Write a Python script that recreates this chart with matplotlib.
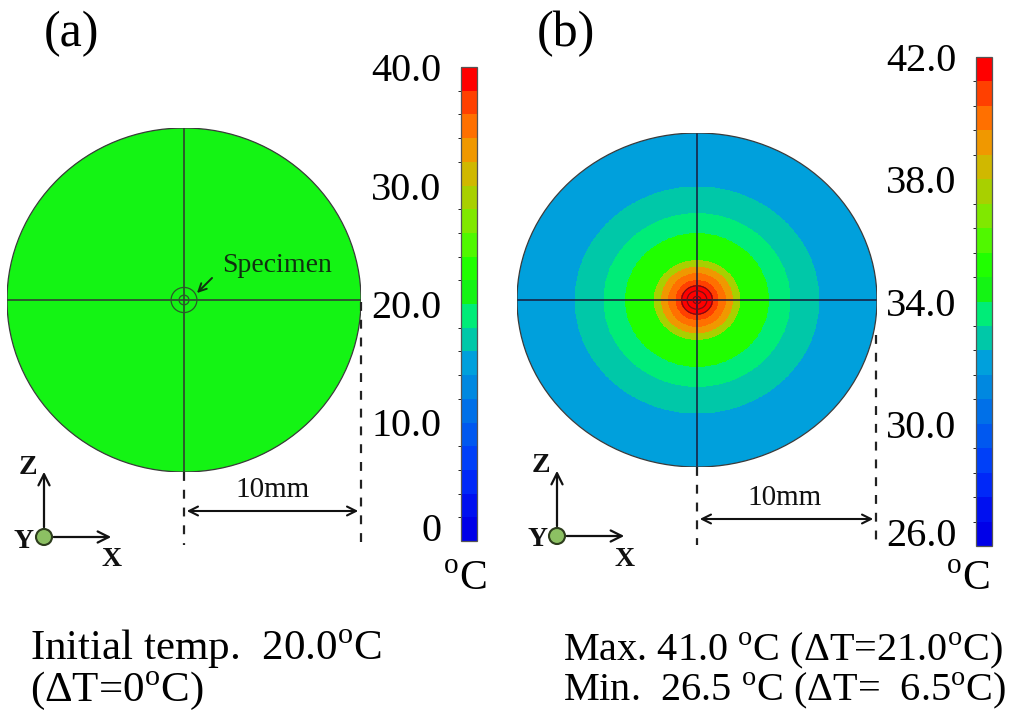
import numpy as np
import matplotlib

matplotlib.use("Agg")
import matplotlib.pyplot as plt
from matplotlib.cm import ScalarMappable
from matplotlib.colors import BoundaryNorm, ListedColormap
from matplotlib.patches import Circle

plt.rcParams["font.family"] = ["Liberation Serif", "DejaVu Serif"]
plt.rcParams["mathtext.fontset"] = "custom"
plt.rcParams["mathtext.rm"] = "Liberation Serif"

W, H = 1024, 721

# 20-step contour palette, coldest first
band_colors = [
    "#0000e8", "#0010f0", "#0028f8", "#0040f8", "#0058f0",
    "#0070e8", "#0088e0", "#00a0dc", "#00c8a8", "#00ec78",
    "#14f414", "#20ff00", "#50f800", "#80e800", "#a8d000",
    "#d0b800", "#f09800", "#ff7000", "#ff4000", "#ff0000",
]

# panel (a): uniform initial temperature
a_levels = np.linspace(0.0, 40.0, 21)
a_ticks = [0, 10, 20, 30, 40]
a_tick_labels = ["0", "10.0", "20.0", "30.0", "40.0"]
initial_temp = 20.0

# panel (b): temperature rings, centre outwards (outer radius in mm)
b_levels = np.linspace(26.0, 42.0, 21)
b_ticks = [26, 30, 34, 38, 42]
b_tick_labels = ["26.0", "30.0", "34.0", "38.0", "42.0"]
b_ring_outer_mm = [0.9, 1.2, 1.6, 2.0, 2.4, 4.0, 5.2, 6.8, 10.0]
b_ring_temp = [41.6, 40.8, 40.0, 39.2, 37.6, 35.2, 33.6, 32.8, 32.0]

specimen_a_mm = [0.73, 0.28]
specimen_b_mm = [0.85, 0.55, 0.22]

cmap = ListedColormap(band_colors)


def px_axes(fig, left, top, right, bottom, **kw):
    return fig.add_axes([left / W, 1 - bottom / H, (right - left) / W, (bottom - top) / H], **kw)


def draw_disc(ax, field, norm, rings, ring_color, line_color):
    x = np.linspace(-10, 10, 801)
    xx, yy = np.meshgrid(x, x)
    mesh = ax.pcolormesh(x, x, field(np.hypot(xx, yy)), cmap=cmap, norm=norm, shading="auto")
    rim = Circle((0, 0), 10, fill=False, edgecolor="#3a3a3a", lw=0.9, zorder=4)
    ax.add_patch(rim)
    mesh.set_clip_path(rim)
    ax.plot([-10, 10], [0, 0], color=line_color, lw=1.1, zorder=3)
    ax.plot([0, 0], [-10, 10], color=line_color, lw=1.1, zorder=3)
    for r in rings:
        ax.add_patch(Circle((0, 0), r, fill=False, edgecolor=ring_color, lw=0.9, zorder=5))
    ax.set_xlim(-10, 10)
    ax.set_ylim(-10, 10)
    ax.axis("off")


def draw_colorbar(fig, box, levels, ticks, labels):
    norm = BoundaryNorm(levels, cmap.N)
    cax = px_axes(fig, *box)
    cb = fig.colorbar(ScalarMappable(norm=norm, cmap=cmap), cax=cax)
    cb.set_ticks(ticks)
    cb.set_ticklabels(labels)
    cax.yaxis.set_ticks_position("left")
    cax.tick_params(length=0, pad=14, labelsize=29)
    tl = cax.get_yticklabels()
    tl[0].set_va("baseline")
    cb.outline.set_edgecolor("#555555")
    cb.outline.set_linewidth(0.9)
    return norm


def draw_triad(ov, ox, oy):
    arrow = dict(arrowstyle="->", lw=1.6, color="#111111", mutation_scale=20)
    ov.annotate("", xy=(ox, oy - 68), xytext=(ox, oy - 7), arrowprops=arrow)
    ov.annotate("", xy=(ox + 70, oy), xytext=(ox + 7, oy), arrowprops=arrow)
    ov.add_patch(Circle((ox, oy), 8, facecolor="#8cc063", edgecolor="#2d3d1d", lw=1.5, zorder=6))
    style = dict(fontsize=20, fontweight="bold", ha="center", va="center", color="#111111")
    ov.text(ox - 16, oy - 70, "Z", **style)
    ov.text(ox - 20, oy + 4, "Y", **style)
    ov.text(ox + 68, oy + 23, "X", **style)


def draw_scale(ov, x0, x1, y_top, y_arrow, text_x):
    dash = dict(color="#222222", lw=1.6, linestyle=(0, (4, 4)))
    ov.plot([x0, x0], [y_top[0], 545], **dash)
    ov.plot([x1, x1], [y_top[1], 545], **dash)
    ov.annotate("", xy=(x0, y_arrow), xytext=(x1, y_arrow),
                arrowprops=dict(arrowstyle="<->", lw=1.5, color="#111111", mutation_scale=16))
    ov.text(text_x, y_arrow - 21, "10mm", fontsize=21, ha="center", va="center", color="#111111")


fig = plt.figure(figsize=(W / 100, H / 100), dpi=100)

# panel (a)
norm_a = draw_colorbar(fig, (461, 67, 477, 541), a_levels, a_ticks, a_tick_labels)
ax_a = px_axes(fig, 7, 128, 361, 472)
draw_disc(ax_a, lambda r: np.full_like(r, initial_temp), norm_a, specimen_a_mm, "#2a5a2a", "#333333")

# panel (b)
norm_b = draw_colorbar(fig, (976, 57, 992, 546), b_levels, b_ticks, b_tick_labels)
ax_b = px_axes(fig, 517, 133, 877, 467)
ring_idx = lambda r: np.minimum(np.searchsorted(b_ring_outer_mm, r), len(b_ring_temp) - 1)
draw_disc(ax_b, lambda r: np.asarray(b_ring_temp)[ring_idx(r)], norm_b, specimen_b_mm, "#7a1010", "#1a1a3a")

# annotations in pixel space
ov = px_axes(fig, 0, 0, W, H, zorder=10)
ov.set_xlim(0, W)
ov.set_ylim(H, 0)
ov.axis("off")
ov.patch.set_alpha(0)

ov.text(72, 34, "(a)", fontsize=36, ha="center", va="center")
ov.text(566, 34, "(b)", fontsize=36, ha="center", va="center")

ov.text(222, 266, "Specimen", fontsize=20, ha="left", va="center", color="#103010")
ov.annotate("", xy=(195, 295), xytext=(214, 276),
            arrowprops=dict(arrowstyle="->", lw=1.4, color="#103010", mutation_scale=14))

draw_triad(ov, 44, 537)
draw_triad(ov, 557, 536)
draw_scale(ov, 184, 361, (472, 302), 511, 272)
draw_scale(ov, 697, 876, (467, 335), 519, 784)

unit = r"$^{\mathrm{o}}$C"
ov.text(465, 580, unit, fontsize=30, ha="center", va="center")
ov.text(968, 580, unit, fontsize=30, ha="center", va="center")

deg = r"$^{\mathrm{o}}$"
ov.text(30, 649, "Initial temp.  20.0" + deg + "C", fontsize=31, ha="left", va="center")
ov.text(30, 691, r"($\Delta$T=0" + deg + "C)", fontsize=31, ha="left", va="center")
ov.text(563, 650, "Max. 41.0 " + deg + r"C ($\Delta$T=21.0" + deg + "C)", fontsize=29, ha="left", va="center")
ov.text(563, 690, "Min.  26.5 " + deg + r"C ($\Delta$T=  6.5" + deg + "C)", fontsize=29, ha="left", va="center")

fig.savefig("out.png", dpi=100, facecolor="white")
